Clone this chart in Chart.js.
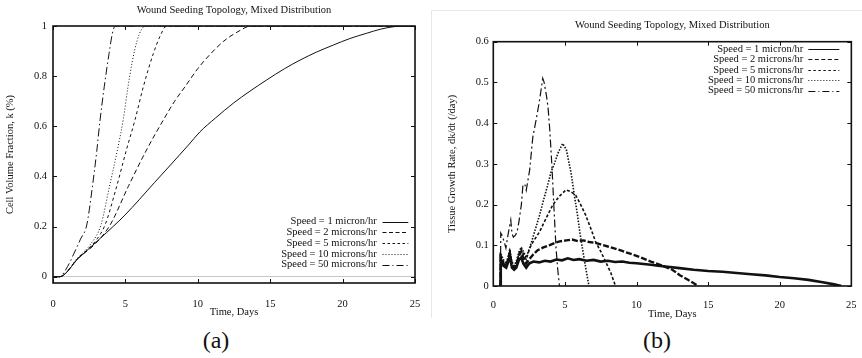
<!DOCTYPE html>
<html><head><meta charset="utf-8">
<script src="https://cdn.jsdelivr.net/npm/chart.js@4/dist/chart.umd.min.js"></script>
<style>
html,body{margin:0;padding:0;background:#fff;width:862px;height:358px;overflow:hidden;position:relative}
#wa{position:absolute;left:0;top:0;width:431px;height:322px}
#wb{position:absolute;left:431px;top:0;width:431px;height:322px}
#frameB{position:absolute;left:431px;top:10px;width:431px;height:307px;border-left:1px solid #e8e8e8;border-top:1px solid #e8e8e8}
.cap{position:absolute;font-family:"Liberation Serif",serif;font-size:24px;color:#111;top:326px;line-height:28px;transform:translateX(-50%)}
</style></head>
<body>
<div id="frameB"></div>
<div id="wa"><canvas id="ca" width="431" height="322"></canvas></div>
<div id="wb"><canvas id="cb" width="431" height="322"></canvas></div>
<div class="cap" style="left:216px">(a)</div>
<div class="cap" style="left:657px">(b)</div>
<script>
// ---------- labels & ticks ----------
const chartTitle = 'Wound Seeding Topology, Mixed Distribution';
const xTitle = 'Time, Days';
const yTitleA = 'Cell Volume Fraction, k (%)';
const yTitleB = 'Tissue Growth Rate, dk/dt (/day)';
const speedLabels = ['Speed = 1 micron/hr','Speed = 2 microns/hr','Speed = 5 microns/hr','Speed = 10 microns/hr','Speed = 50 microns/hr'];
const xTicks = [0,5,10,15,20,25];
const yTicksA = [0,0.2,0.4,0.6,0.8,1];
const yTicksB = [0,0.1,0.2,0.3,0.4,0.5,0.6];

// ---------- (a) cell volume fraction k ----------
const tA1 = [0,0.45,1.75,3.3,4.97,7.0,9.35,10.15,11.2,12.45,13.6,14.76,16.0,17.06,18.2,19.36,20.5,21.66,22.6,23.5,24.3,25];
const kA1 = [0,0,0.073,0.155,0.246,0.375,0.525,0.578,0.632,0.692,0.74,0.785,0.83,0.864,0.896,0.924,0.95,0.971,0.987,0.997,1,1];
const tA2 = [0,0.45,1.75,2.9,3.94,5.2,6.5,7.62,8.4,9.12,10.0,10.9,11.8,12.7,13.7,25];
const kA2 = [0,0,0.075,0.13,0.206,0.36,0.51,0.625,0.70,0.758,0.83,0.89,0.94,0.975,1,1];
const tA5 = [0,0.45,1.75,2.9,3.59,4.3,5.09,5.66,6.24,6.93,7.4,7.85,25];
const kA5 = [0,0,0.076,0.14,0.206,0.34,0.51,0.625,0.758,0.89,0.96,1,1];
const tA10 = [0,0.45,1.75,2.6,3.31,3.9,4.5,4.86,5.16,5.48,5.8,6.1,6.4,25];
const kA10 = [0,0,0.078,0.13,0.206,0.36,0.52,0.63,0.75,0.86,0.94,0.985,1,1];
const tA50 = [0,0.45,1.0,1.4,1.9,2.33,2.7,3.02,3.25,3.54,3.87,4.1,4.3,25];
const kA50 = [0,0,0.04,0.087,0.15,0.206,0.35,0.5,0.625,0.758,0.89,0.97,1,1];

// ---------- (b) tissue growth rate dk/dt ----------
const tB1 = [0.5,0.52,0.7,0.9,1.05,1.15,1.3,1.45,1.6,1.8,1.95,2.1,2.3,2.5,2.8,3.2,3.6,4.0,4.4,4.8,5.2,5.6,6.0,6.5,7.0,7.5,8.0,8.5,9.0,9.5,10,10.5,11,11.5,12,13,14,15,16,17,18,19,20,21,22,23,23.8,24.3];
const rB1 = [0,0.065,0.05,0.045,0.06,0.075,0.045,0.04,0.045,0.065,0.07,0.055,0.045,0.055,0.06,0.058,0.062,0.06,0.065,0.063,0.068,0.064,0.066,0.062,0.064,0.06,0.062,0.059,0.06,0.057,0.056,0.054,0.052,0.05,0.048,0.044,0.04,0.037,0.035,0.032,0.029,0.026,0.022,0.019,0.015,0.009,0.004,0];
const tB2 = [0.5,0.52,0.7,0.9,1.05,1.15,1.3,1.45,1.6,1.8,1.95,2.1,2.3,2.5,2.8,3.1,3.5,3.9,4.3,4.7,5.1,5.5,5.9,6.3,6.7,7.1,7.5,8.0,8.5,9.0,9.5,10,10.5,11,11.5,12,12.5,13,13.5,14,14.3];
const rB2 = [0,0.07,0.055,0.05,0.065,0.08,0.05,0.045,0.05,0.075,0.085,0.07,0.055,0.065,0.078,0.088,0.095,0.1,0.106,0.11,0.112,0.114,0.11,0.112,0.108,0.106,0.102,0.097,0.092,0.086,0.08,0.074,0.067,0.06,0.054,0.047,0.04,0.027,0.017,0.007,0];
const tB5 = [0.5,0.52,0.7,0.9,1.05,1.15,1.3,1.45,1.6,1.8,1.95,2.1,2.3,2.54,2.8,3.23,3.6,4.15,4.6,5.07,5.4,5.75,6.1,6.45,6.8,7.14,7.5,7.84,8.2,8.53];
const rB5 = [0,0.075,0.06,0.052,0.07,0.085,0.055,0.048,0.055,0.08,0.092,0.078,0.065,0.093,0.11,0.133,0.16,0.199,0.22,0.236,0.232,0.223,0.2,0.174,0.142,0.109,0.085,0.06,0.033,0];
const tB10 = [0.5,0.52,0.7,0.9,1.05,1.15,1.3,1.45,1.6,1.8,1.95,2.1,2.3,2.6,2.9,3.23,3.5,3.8,4.03,4.26,4.5,4.84,5.1,5.3,5.42,5.65,5.88,6.05,6.22,6.45,6.68];
const rB10 = [0,0.08,0.065,0.055,0.075,0.09,0.06,0.05,0.06,0.085,0.095,0.085,0.07,0.1,0.135,0.174,0.21,0.248,0.28,0.3,0.325,0.35,0.335,0.3,0.28,0.225,0.174,0.13,0.093,0.045,0];
const tB50 = [0.5,0.52,0.6,0.75,0.88,1.0,1.1,1.22,1.3,1.4,1.55,1.66,1.8,1.96,2.07,2.2,2.3,2.54,2.76,3.0,3.2,3.35,3.45,3.55,3.7,3.82,3.95,4.1,4.26,4.38,4.5,4.62];
const rB50 = [0,0.13,0.125,0.11,0.093,0.12,0.14,0.162,0.13,0.12,0.125,0.133,0.16,0.2,0.248,0.25,0.235,0.285,0.366,0.41,0.45,0.485,0.51,0.5,0.47,0.44,0.38,0.29,0.174,0.093,0.04,0];

// ---------- styling ----------
const FAM = '"Liberation Serif", "Times New Roman", serif';
const font = {family: FAM, size: 10.5, lineHeight: 1.2, weight: 'normal'};
const INK = '#111';
const dashes = [[], [5,3], [3,3], [1,2], [8,3,1.5,3]];
const legendDashes = [[], [4,2.5], [2.5,2.5], [1,2], [7,3,1,3]];

const pts = (t, v) => t.map((x, i) => ({x: x, y: v[i]}));

const frame = {
  id: 'frame',
  afterDatasetsDraw(chart) {
    const {ctx, chartArea: a, scales} = chart;
    ctx.save();
    ctx.setLineDash([]);
    ctx.strokeStyle = INK;
    ctx.lineWidth = 1;
    const L = 4;
    scales.x.ticks.forEach(t => {
      const p = Math.round(scales.x.getPixelForValue(t.value)) + 0.5;
      ctx.beginPath();
      ctx.moveTo(p, a.bottom); ctx.lineTo(p, a.bottom - L);
      ctx.moveTo(p, a.top); ctx.lineTo(p, a.top + L);
      ctx.stroke();
    });
    scales.y.ticks.forEach(t => {
      const p = Math.round(scales.y.getPixelForValue(t.value)) + 0.5;
      ctx.beginPath();
      ctx.moveTo(a.left, p); ctx.lineTo(a.left + L, p);
      ctx.moveTo(a.right, p); ctx.lineTo(a.right - L, p);
      ctx.stroke();
    });
    ctx.lineWidth = 1.6;
    ctx.strokeRect(a.left, a.top, a.right - a.left, a.bottom - a.top);
    ctx.restore();
  }
};

const gnuLegend = {
  id: 'gnuLegend',
  afterDatasetsDraw(chart, args, o) {
    const {ctx, chartArea: a} = chart;
    ctx.save();
    ctx.font = '10.5px ' + FAM;
    ctx.fillStyle = INK;
    ctx.strokeStyle = INK;
    ctx.textAlign = 'right';
    ctx.textBaseline = 'middle';
    ctx.lineWidth = 1;
    chart.data.datasets.forEach((ds, i) => {
      const y = o.top + i * o.rowH;
      ctx.fillText(ds.label, a.right - o.textOff, y);
      ctx.beginPath();
      ctx.setLineDash(legendDashes[i]);
      ctx.moveTo(a.right - o.s1, Math.round(y) + 0.5);
      ctx.lineTo(a.right - o.s2, Math.round(y) + 0.5);
      ctx.stroke();
    });
    ctx.restore();
  }
};

function makeChart(id, cfg) {
  return new Chart(document.getElementById(id), {
    type: 'line',
    data: {datasets: cfg.series.map((s, i) => ({
      label: speedLabels[i],
      data: pts(s[0], s[1]),
      borderColor: INK,
      borderWidth: cfg.widths[i],
      borderDash: cfg.dashes[i],
      pointRadius: 0,
      fill: false,
      tension: 0,
      cubicInterpolationMode: cfg.smooth ? 'monotone' : 'default'
    }))},
    options: {
      responsive: false,
      animation: false,
      devicePixelRatio: 1,
      layout: {padding: {top: 0, left: 0, bottom: 0, right: cfg.padRight}},
      plugins: {
        legend: {display: false},
        tooltip: {enabled: false},
        title: {display: true, text: chartTitle, fullSize: false, color: INK, font: font,
                padding: {top: cfg.titleTop, bottom: cfg.titleBottom}},
        gnuLegend: cfg.legend
      },
      scales: {
        x: {
          type: 'linear', min: 0, max: 25,
          afterBuildTicks: s => { s.ticks = xTicks.map(v => ({value: v})); },
          afterFit: s => { s.height = cfg.xH; },
          grid: {display: false},
          border: {display: false},
          ticks: {color: INK, font: font, padding: cfg.xTickPad, maxRotation: 0, autoSkip: false, callback: v => String(v)},
          title: {display: true, text: xTitle, color: INK, font: font, padding: {top: 0, bottom: cfg.xTitlePad}}
        },
        y: {
          type: 'linear', min: cfg.yMin, max: cfg.yMax,
          afterBuildTicks: s => { s.ticks = cfg.yTicks.map(v => ({value: v})); },
          afterFit: s => { s.width = cfg.yW; },
          grid: {display: cfg.zeroLine, drawTicks: false,
                 color: c => (c.tick && c.tick.value === 0) ? '#c8c8c8' : 'rgba(0,0,0,0)'},
          border: {display: false},
          ticks: {color: INK, font: font, padding: cfg.yTickPad, autoSkip: false, callback: v => String(v)},
          title: {display: true, text: cfg.yTitle, color: INK, font: font, padding: {top: cfg.yTitlePad, bottom: 0}}
        }
      }
    },
    plugins: [frame, gnuLegend]
  });
}

makeChart('ca', {
  series: [[tA1,kA1],[tA2,kA2],[tA5,kA5],[tA10,kA10],[tA50,kA50]],
  widths: [1,1,1,1,1],
  dashes: dashes,
  smooth: true,
  padRight: 16,
  titleTop: 3.7, titleBottom: 9.7,
  xH: 39, xTickPad: 6.7, xTitlePad: 3,
  yW: 53, yTickPad: 6, yTitlePad: 3.7,
  yMin: -0.025, yMax: 1, yTicks: yTicksA, yTitle: yTitleA,
  zeroLine: true,
  legend: {top: 221.5, rowH: 10.8, textOff: 38.3, s1: 32.5, s2: 6.7}
});

makeChart('cb', {
  series: [[tB1,rB1],[tB2,rB2],[tB5,rB5],[tB10,rB10],[tB50,rB50]],
  widths: [2.6,2.4,1.6,1.6,1.2],
  dashes: [[], [6,2], [3,2], [1.5,1.5], [8,3,2,3]],
  smooth: false,
  padRight: 7,
  titleTop: 19.4, titleBottom: 9.7,
  xH: 36, xTickPad: 5.4, xTitlePad: 1.7,
  yW: 62.3, yTickPad: 4.5, yTitlePad: 15.2,
  yMin: 0, yMax: 0.6, yTicks: yTicksB, yTitle: yTitleB,
  zeroLine: false,
  legend: {top: 49, rowH: 10.4, textOff: 48, s1: 43, s2: 12}
});
</script>
</body></html>
